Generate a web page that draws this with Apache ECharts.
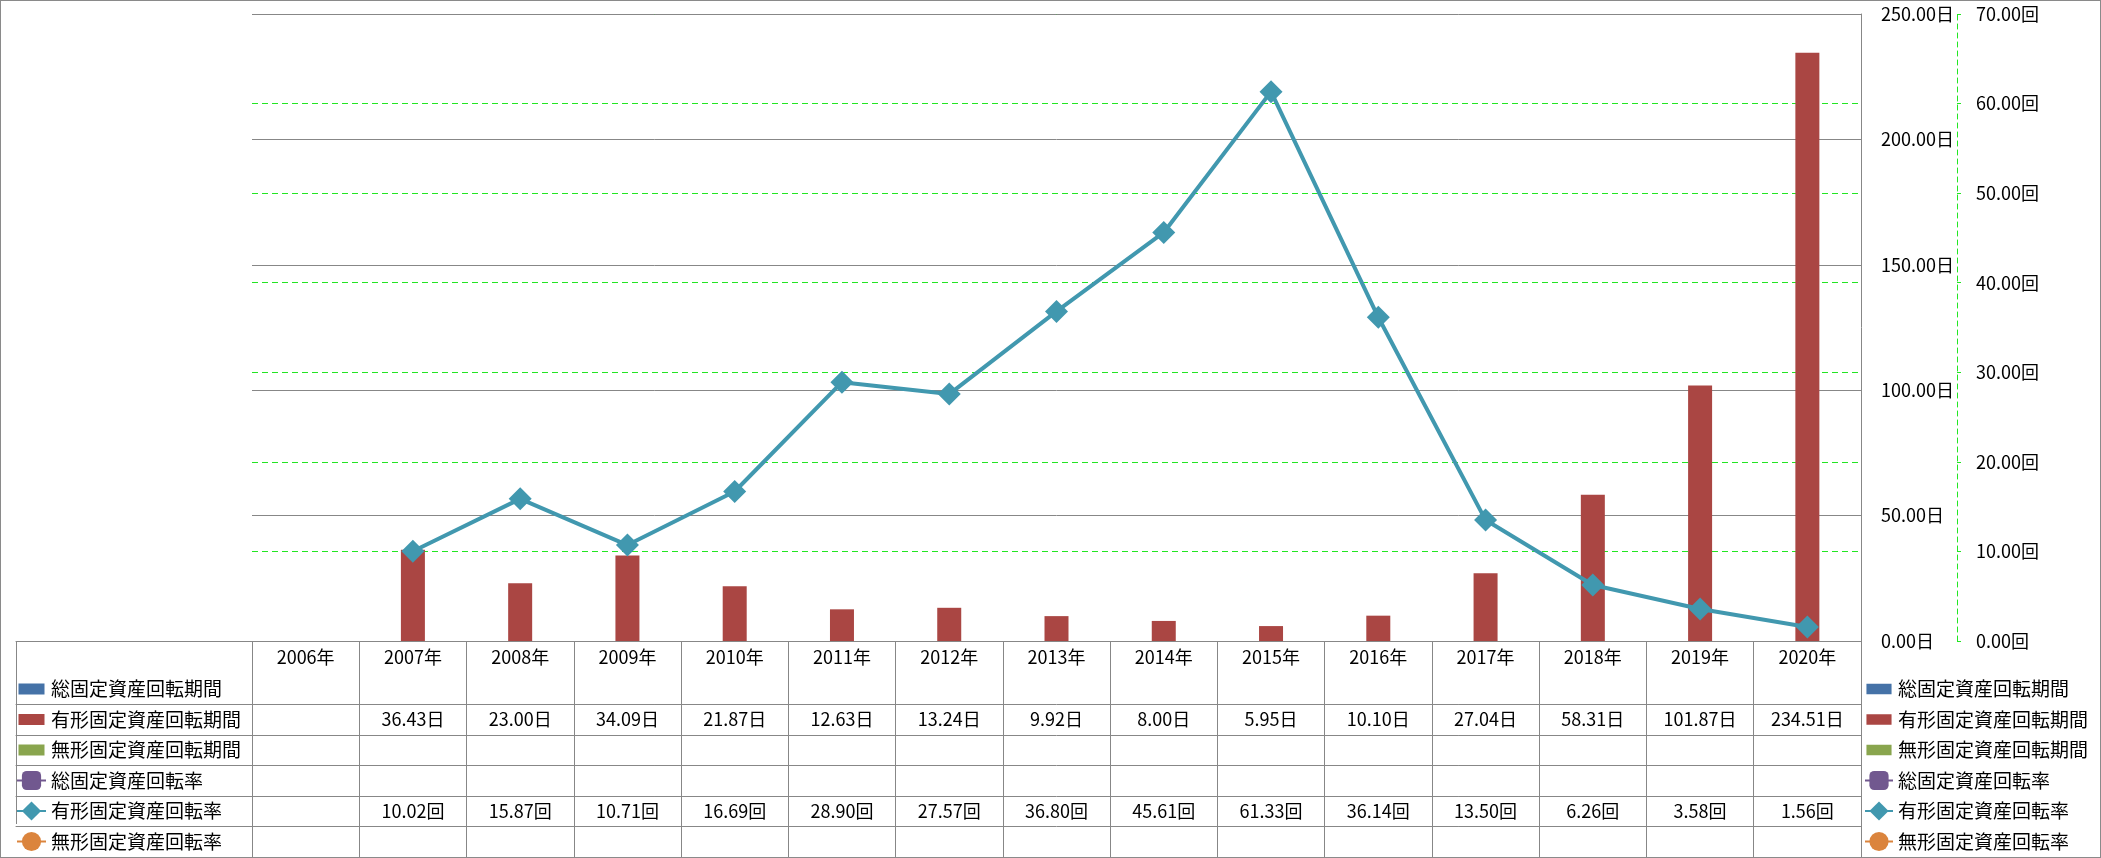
<!DOCTYPE html>
<html>
<head>
<meta charset="utf-8">
<script src="https://cdn.jsdelivr.net/npm/echarts@6/dist/echarts.min.js"></script>
<style>
html,body{margin:0;padding:0;background:#fff;}
#chart{position:absolute;left:0;top:0;width:2101px;height:858px;}
#frame{position:absolute;left:0;top:0;width:2101px;height:858px;box-sizing:border-box;border:1px solid #8a8a8a;pointer-events:none;}
</style>
</head>
<body>
<div id="chart"></div>
<div id="frame"></div>
<script>
// ---- data ----
const years = ['2006年','2007年','2008年','2009年','2010年','2011年','2012年','2013年','2014年','2015年','2016年','2017年','2018年','2019年','2020年'];
const totalPeriod = [null,null,null,null,null,null,null,null,null,null,null,null,null,null,null];
const tangiblePeriod = [null,36.43,23.00,34.09,21.87,12.63,13.24,9.92,8.00,5.95,10.10,27.04,58.31,101.87,234.51];
const intangiblePeriod = [null,null,null,null,null,null,null,null,null,null,null,null,null,null,null];
const totalRate = [null,null,null,null,null,null,null,null,null,null,null,null,null,null,null];
const tangibleRate = [null,10.02,15.87,10.71,16.69,28.90,27.57,36.80,45.61,61.33,36.14,13.50,6.26,3.58,1.56];
const intangibleRate = [null,null,null,null,null,null,null,null,null,null,null,null,null,null,null];
const seriesNames = ['総固定資産回転期間','有形固定資産回転期間','無形固定資産回転期間','総固定資産回転率','有形固定資産回転率','無形固定資産回転率'];
const dayUnit = '日';
const timesUnit = '回';

// ---- style ----
const FONT = '"Noto Sans CJK JP", "Noto Sans", sans-serif';
const GRAY = '#878787';
const GREEN = '#22e622';
const colors = ['#4572A7','#AA4643','#89A54E','#71588F','#4198AF','#DB843D'];

const rowOffsets = [33, 63.5, 94, 124.5, 155, 185.5, 216];
const rowValues = [totalPeriod, tangiblePeriod, intangiblePeriod, totalRate, tangibleRate, intangibleRate];
const rowUnits = [dayUnit, dayUnit, dayUnit, timesUnit, timesUnit, timesUnit];

const xAxes = [];
// main category axis: header row with years, vertical table lines as ticks
xAxes.push({
  type:'category', gridIndex:0, data:years, position:'bottom', boundaryGap:true,
  axisLine:{show:true, lineStyle:{color:GRAY, width:1}},
  axisTick:{show:true, length:216, lineStyle:{color:GRAY, width:1}},
  axisLabel:{interval:0, margin:6, fontSize:18, lineHeight:20, color:'#000', fontFamily:FONT}
});
// table rows in value columns
for (let k = 0; k < rowOffsets.length; k++) {
  const vals = rowValues[k];
  const unit = rowUnits[k];
  xAxes.push({
    type:'category', gridIndex:0, data:years, position:'bottom', offset:rowOffsets[k],
    axisLine:{show:true, lineStyle:{color:GRAY, width:1}},
    axisTick:{show:false},
    axisLabel:{
      show: !!vals, interval:0, margin:5, fontSize:18, lineHeight:20, color:'#000', fontFamily:FONT,
      formatter: function(v, i){ const x = vals ? vals[i] : null; return (x == null) ? '' : x.toFixed(2) + unit; }
    }
  });
}
// left legend column lines
for (let k = 0; k < rowOffsets.length; k++) {
  xAxes.push({
    type:'category', gridIndex:1, data:[''], position:'bottom', offset:rowOffsets[k], boundaryGap:true,
    axisLine:{show:true, lineStyle:{color:GRAY, width:1}},
    axisTick:{show:k===0, length:216-33, lineStyle:{color:GRAY, width:1}},
    axisLabel:{show:false}
  });
}

const barIcon = 'path://M0,0L29,0L29,0Z M1.5,6.5H27.5V17.5H1.5Z M0,24L29,24L29,24Z';
const legendData = seriesNames.map((n, i) => i < 3 ? {name:n, icon:barIcon} : {name:n});
const legendCommon = {
  orient:'vertical', itemWidth:29, itemHeight:24, itemGap:6.5, selectedMode:false, padding:0,
  height:181,
  textStyle:{fontSize:19, color:'#000', fontFamily:FONT, lineHeight:24},
  data: legendData
};

const option = {
  animation:false,
  backgroundColor:'#fff',
  textStyle:{fontFamily:FONT},
  grid:[
    {left:252, right:240, top:14, bottom:217},
    {left:16, width:236, top:14, bottom:217, show:false}
  ],
  legend:[
    Object.assign({left:16, top:677}, legendCommon),
    Object.assign({left:1864, top:677}, legendCommon, {itemWidth:28})
  ],
  xAxis: xAxes,
  yAxis:[
    {
      type:'value', gridIndex:0, position:'right', min:0, max:250, interval:50, z:1,
      axisLine:{show:true, lineStyle:{color:GRAY, width:1}},
      axisTick:{show:false},
      splitLine:{show:true, lineStyle:{color:GRAY, width:1}},
      axisLabel:{margin:20, fontSize:18, color:'#000', fontFamily:FONT, formatter:v => v.toFixed(2) + dayUnit}
    },
    {
      type:'value', gridIndex:0, position:'right', offset:96, min:0, max:70, interval:10, z:0,
      axisLine:{show:true, lineStyle:{color:GREEN, width:1, type:[5,4]}},
      axisTick:{show:true, inside:false, length:4, lineStyle:{color:GREEN, width:1}},
      splitLine:{show:true, lineStyle:{color:GREEN, width:1, type:[6,4]}},
      axisLabel:{margin:19, fontSize:18, color:'#000', fontFamily:FONT, formatter:v => v.toFixed(2) + timesUnit}
    },
    {type:'value', gridIndex:1, show:false}
  ],
  series:[
    {name:seriesNames[0], type:'bar', data:totalPeriod, yAxisIndex:0, barWidth:24, itemStyle:{color:colors[0]}},
    {name:seriesNames[1], type:'bar', data:tangiblePeriod, yAxisIndex:0, barWidth:24, itemStyle:{color:colors[1]}},
    {name:seriesNames[2], type:'bar', data:intangiblePeriod, yAxisIndex:0, barWidth:24, itemStyle:{color:colors[2]}},
    {name:seriesNames[3], type:'line', data:totalRate, yAxisIndex:1, symbol:'roundRect', symbolSize:20, itemStyle:{color:colors[3]}, lineStyle:{color:colors[3], width:4}},
    {name:seriesNames[4], type:'line', data:tangibleRate, yAxisIndex:1, symbol:'diamond', symbolSize:23, z:5, itemStyle:{color:colors[4]}, lineStyle:{color:colors[4], width:4}},
    {name:seriesNames[5], type:'line', data:intangibleRate, yAxisIndex:1, symbol:'circle', symbolSize:20, itemStyle:{color:colors[5]}, lineStyle:{color:colors[5], width:4}}
  ]
};

const chart = echarts.init(document.getElementById('chart'), null, {renderer:'canvas'});
chart.setOption(option);
</script>
</body>
</html>
